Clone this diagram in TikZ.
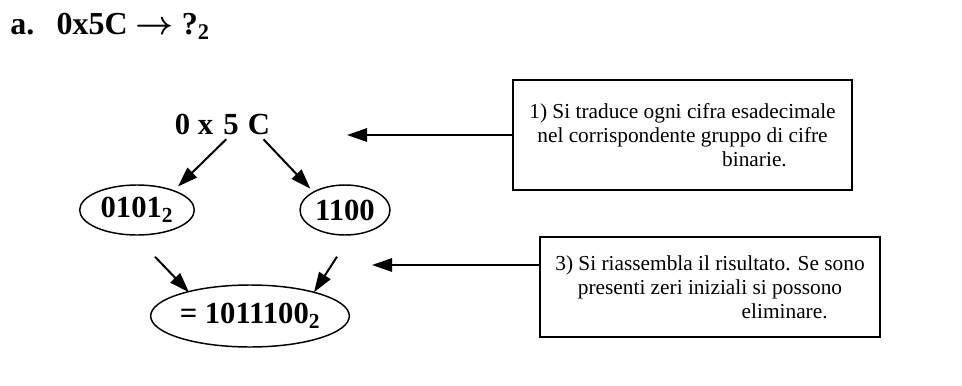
\documentclass[tikz,border=0pt]{standalone}
\usepackage{amsmath}
\usepackage{fontspec}
\setmainfont{Liberation Serif}
\usetikzlibrary{arrows.meta,shapes.geometric,calc}

\tikzset{
    bubble/.style={draw, ellipse, line width=1.1pt, inner sep=0pt, minimum height=37.5pt, font=\bfseries\fontsize{23}{27}\selectfont},
    digit/.style={inner sep=0pt, anchor=base, font=\bfseries\fontsize{23}{27}\selectfont},
    note/.style={draw, line width=1.1pt, align=center, inner sep=0pt, font=\fontsize{16}{18}\selectfont},
    pointer/.style={line width=1.5pt, -{Triangle[length=15pt,width=10pt]}}
}

\begin{document}
\begin{tikzpicture}[x=0.75pt, y=-0.75pt]
    \useasboundingbox (0,0) rectangle (962,385);

    \node [anchor=base west, inner sep=0pt, font=\bfseries\fontsize{24}{28}\selectfont] (title) at (10,35) {a.\hspace{0.7em}0x5C $\boldsymbol{\rightarrow}$ ?\textsubscript{2}};

    % the hex digits
    \node [digit] (hex0) at (194,134) {0 x};
    \node [digit] (hex5) at (231,134) {5};
    \node [digit] (hexC) at (259,134) {C};

    \node [bubble, minimum width=86pt] (binA) at (137,210) {0101\textsubscript{2}};
    \node [bubble, minimum width=67.5pt] (binB) at (345,210) {1100};
    \node [bubble, minimum width=142.5pt, minimum height=46.5pt] (result) at (250,316) {= 1011100\textsubscript{2}};

    \draw [pointer, shorten <=5pt, shorten >=4pt] (hex5.south) -- (binA.28);
    \draw [pointer, shorten <=5pt, shorten >=3pt] (hexC.south) -- (binB.150);
    \draw [pointer] ($(binA.south)+(18,21)$) -- ($(result.north)+(-61,8)$);
    \draw [pointer] ($(binB.south)+(-8,21)$) -- ($(result.north)+(64,8)$);

    % the two remarks
    \node [note, minimum width=254pt, minimum height=82.5pt] (note1) at (682.5,135)
        {1) Si traduce ogni cifra esadecimale\\ nel corrispondente gruppo di cifre\\ \hspace*{6.75em}binarie.};
    \node [note, minimum width=255pt, minimum height=75pt] (note3) at (710,287)
        {3) Si riassembla il risultato. Se sono\\ presenti zeri iniziali si possono\\ \hspace*{7em}eliminare.};

    \coordinate (tip1) at (347,135);
    \coordinate (tip3) at (372,265);
    \draw [pointer] (note1.west |- tip1) -- (tip1);
    \draw [pointer] (note3.west |- tip3) -- (tip3);
\end{tikzpicture}
\end{document}
